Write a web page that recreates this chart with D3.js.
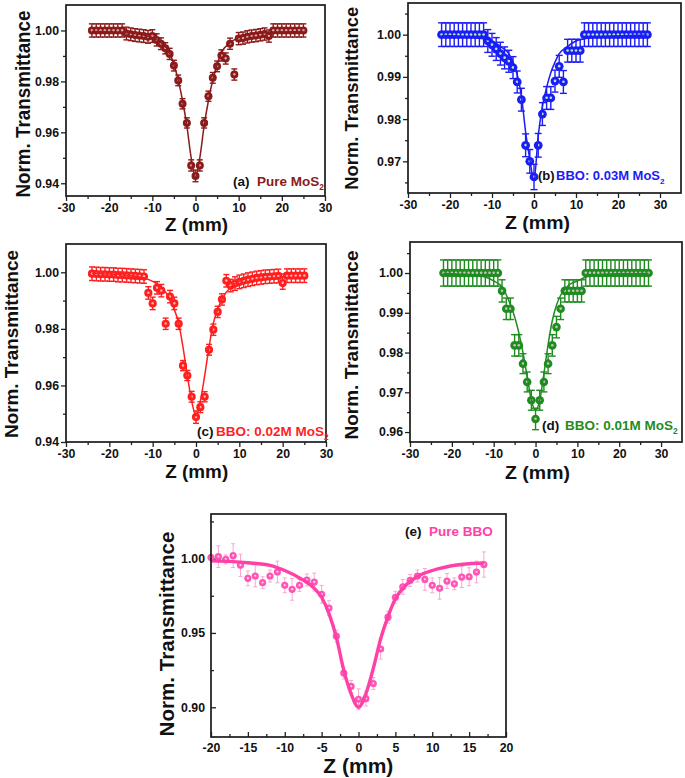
<!DOCTYPE html>
<html><head><meta charset="utf-8">
<script src="https://cdn.jsdelivr.net/npm/d3@7"></script>
<style>body{margin:0;background:#fff} text{font-family:"Liberation Sans",Arial,sans-serif;}</style>
</head><body><svg id="c" width="685" height="778"></svg>
<script>
// ---------------- DATA ----------------
// (a) Pure MoS2
const zA = [-24,-23,-22,-21,-20,-19,-18,-17,-16,-15,-14,-13,-12,-11,-10,-9,-8,-7,-6,-5,-4,-3,-2,-1,0,1,2,3,4,5,6,7,8,9,10,11,12,13,14,15,16,17,18,19,20,21,22,23,24,25];
const tA = [1.000,1.000,1.000,1.000,1.000,1.000,1.000,1.000,0.9988,0.9985,0.9982,0.998,0.9978,0.9975,0.9978,0.9963,0.9948,0.993,0.9908,0.9862,0.9804,0.9712,0.9637,0.947,0.9429,0.947,0.9637,0.9742,0.9814,0.9859,0.9902,0.989,0.9948,0.9827,0.9968,0.997,0.9975,0.9978,0.998,0.9983,0.9986,0.9978,1.000,1.000,1.000,1.000,1.000,1.000,1.000,1.000];
const eA = [0.0026,0.0026,0.0026,0.0026,0.0026,0.0026,0.0026,0.0026,0.0025,0.0025,0.0025,0.0025,0.0025,0.0025,0.0025,0.0024,0.0023,0.0022,0.0022,0.0021,0.0021,0.002,0.002,0.0022,0.0023,0.0022,0.002,0.002,0.0021,0.0021,0.0022,0.0022,0.0022,0.0022,0.0024,0.0024,0.0024,0.0024,0.0024,0.0024,0.0024,0.0024,0.0026,0.0026,0.0026,0.0026,0.0026,0.0026,0.0026,0.0026];
const fitZA = [-24,-20,-15,-12,-10,-8,-6,-5,-4,-3,-2,-1,0,1,2,3,4,5,6,8,10,12,15,20,25];
const fitTA = [0.9996,0.9994,0.999,0.9982,0.9972,0.9952,0.9912,0.9865,0.9805,0.9725,0.9625,0.950,0.9425,0.950,0.9625,0.9725,0.9805,0.9865,0.9912,0.9952,0.9972,0.9982,0.999,0.9994,0.9996];

// (b) BBO: 0.03M MoS2
const zB = [-22,-21,-20,-19,-18,-17,-16,-15,-14,-13,-12,-11,-10,-9,-8,-7,-6,-5,-4,-3,-2,-1,0,1,2,3,4,5,6,7,8,9,10,11,12,13,14,15,16,17,18,19,20,21,22,23,24,25,26,27];
const tB = [1.000,1.000,1.000,1.000,1.000,1.000,1.000,1.000,1.000,1.000,1.000,0.9985,0.9976,0.9966,0.9955,0.9945,0.9937,0.9922,0.9888,0.9846,0.9738,0.970,0.9663,0.9738,0.9812,0.985,0.985,0.989,0.9925,0.9888,0.9962,0.9962,0.9962,0.9962,1.000,1.000,1.000,1.000,1.000,1.000,1.000,1.000,1.000,1.000,1.000,1.000,1.000,1.000,1.000,1.000];
const eB = [0.0028,0.0028,0.0028,0.0028,0.0028,0.0028,0.0028,0.0028,0.0028,0.0028,0.0028,0.0027,0.0027,0.0027,0.0027,0.0026,0.0026,0.0026,0.0026,0.0027,0.0027,0.0028,0.003,0.0028,0.0027,0.0027,0.0027,0.0026,0.0026,0.0027,0.0027,0.0027,0.0027,0.0027,0.0028,0.0028,0.0028,0.0028,0.0028,0.0028,0.0028,0.0028,0.0028,0.0028,0.0028,0.0028,0.0028,0.0028,0.0028,0.0028];
const fitZB = [-22,-15,-12,-10,-8,-6,-5,-4,-3,-2,-1,0,1,2,3,4,5,6,8,10,12,15,20,27];
const fitTB = [0.9998,0.9994,0.999,0.9985,0.9972,0.9955,0.9935,0.9905,0.9855,0.977,0.9705,0.9655,0.976,0.983,0.9875,0.991,0.9935,0.9955,0.9972,0.9985,0.999,0.9994,0.9997,0.9999];

// (c) BBO: 0.02M MoS2
const zC = [-24,-23,-22,-21,-20,-19,-18,-17,-16,-15,-14,-13,-12,-11,-10,-9,-8,-7,-6,-5,-4,-3,-2,-1,0,1,2,3,4,5,6,7,8,9,10,11,12,13,14,15,16,17,18,19,20,21,22,23,24,25];
const tC = [0.9995,0.9994,0.9993,0.9993,0.9992,0.9992,0.999,0.999,0.9989,0.9988,0.9987,0.9986,0.9985,0.9927,0.989,0.9945,0.9935,0.9818,0.9914,0.989,0.9818,0.967,0.9635,0.956,0.9488,0.9523,0.956,0.9726,0.9797,0.986,0.9904,0.997,0.9953,0.996,0.9966,0.997,0.9974,0.9977,0.998,0.9982,0.9984,0.9985,0.9986,0.9987,0.9962,0.9988,0.9988,0.9988,0.9988,0.9988];
const eC = [0.0024,0.0024,0.0024,0.0024,0.0024,0.0024,0.0024,0.0024,0.0024,0.0024,0.0024,0.0024,0.0024,0.0022,0.0022,0.0022,0.0022,0.002,0.0022,0.0022,0.002,0.0018,0.0018,0.0019,0.0022,0.0019,0.0018,0.0019,0.002,0.002,0.002,0.0022,0.0022,0.0024,0.0024,0.0024,0.0024,0.0024,0.0024,0.0024,0.0024,0.0024,0.0024,0.0024,0.0022,0.0024,0.0024,0.0024,0.0024,0.0024];
const fitZC = [-24,-20,-15,-12,-10,-8,-6,-5,-4,-3,-2,-1,0,1,2,3,4,5,6,8,10,12,15,20,25];
const fitTC = [0.9997,0.9994,0.9988,0.998,0.9968,0.9948,0.9905,0.9868,0.982,0.9735,0.9635,0.9545,0.9492,0.9545,0.9635,0.9735,0.982,0.9868,0.9905,0.9948,0.9968,0.998,0.9988,0.9994,0.9997];

// (d) BBO: 0.01M MoS2
const zD = [-22,-21,-20,-19,-18,-17,-16,-15,-14,-13,-12,-11,-10,-9,-8,-7,-6,-5,-4,-3,-2,-1,0,1,2,3,4,5,6,7,8,9,10,11,12,13,14,15,16,17,18,19,20,21,22,23,24,25,26,27];
const tD = [1.000,1.000,1.000,1.000,1.000,1.000,1.000,1.000,1.000,1.000,1.000,1.000,1.000,1.000,0.9955,0.991,0.991,0.9818,0.9818,0.9772,0.9726,0.968,0.9633,0.968,0.9726,0.9772,0.9818,0.9864,0.991,0.9955,0.9955,0.9955,0.9955,0.9955,1.000,1.000,1.000,1.000,1.000,1.000,1.000,1.000,1.000,1.000,1.000,1.000,1.000,1.000,1.000,1.000];
const eD = [0.0033,0.0033,0.0033,0.0033,0.0033,0.0033,0.0033,0.0033,0.0033,0.0033,0.0033,0.0033,0.0033,0.0033,0.0028,0.0027,0.0027,0.0027,0.0027,0.0025,0.0025,0.0025,0.0027,0.0025,0.0025,0.0025,0.0027,0.0027,0.0027,0.0028,0.0028,0.0028,0.0028,0.0028,0.0033,0.0033,0.0033,0.0033,0.0033,0.0033,0.0033,0.0033,0.0033,0.0033,0.0033,0.0033,0.0033,0.0033,0.0033,0.0033];
const fitZD = [-22,-15,-12,-10,-8,-6,-5,-4,-3,-2,-1,0,1,2,3,4,5,6,8,10,12,15,20,27];
const fitTD = [0.9999,0.9995,0.999,0.998,0.9965,0.992,0.989,0.985,0.980,0.974,0.968,0.9655,0.968,0.9747,0.982,0.988,0.9919,0.9944,0.997,0.998,0.999,0.9995,0.9998,0.9999];

// (e) Pure BBO
const zE = [-20,-19,-18,-17,-16,-15,-14,-13,-12,-11,-10,-9,-8,-7,-6,-5,-4,-3,-2,-1,0,1,2,3,4,5,6,7,8,9,10,11,12,13,14,15,16,17];
const tE = [1.0007,1.0013,0.9995,1.002,0.9955,0.9867,0.9883,0.9838,0.9883,0.991,0.982,0.9793,0.982,0.9856,0.9842,0.976,0.9667,0.9478,0.923,0.914,0.9054,0.9058,0.916,0.9392,0.9606,0.974,0.981,0.9853,0.9883,0.986,0.982,0.980,0.9849,0.983,0.9876,0.9878,0.991,0.996];
const eE = [0.002,0.0073,0.003,0.008,0.0075,0.005,0.0073,0.004,0.004,0.0073,0.005,0.0073,0.004,0.004,0.006,0.006,0.005,0.004,0.004,0.004,0.007,0.005,0.004,0.0068,0.004,0.004,0.005,0.004,0.004,0.0073,0.005,0.0073,0.005,0.004,0.007,0.006,0.0073,0.0085];
const fitZE = [-20,-17,-15,-12,-10,-8,-6,-5,-4,-3,-2,-1,0,1,2,3,4,5,6,8,10,12,15,17];
const fitTE = [0.9985,0.998,0.9972,0.9955,0.992,0.987,0.980,0.974,0.963,0.947,0.925,0.909,0.900,0.909,0.926,0.946,0.961,0.973,0.980,0.988,0.992,0.9945,0.9965,0.997];

// tick values
const xTicks30 = [-30,-20,-10,0,10,20,30];
const xMinor30 = [-25,-15,-5,5,15,25];
const xTicks20 = [-20,-15,-10,-5,0,5,10,15,20];
const xMinor20 = [-17.5,-12.5,-7.5,-2.5,2.5,7.5,12.5,17.5];
const yTicksA = [0.94,0.96,0.98,1.00], yMinorA = [0.95,0.97,0.99];
const yTicksB = [0.97,0.98,0.99,1.00], yMinorB = [0.965,0.975,0.985,0.995,1.005];
const yTicksC = [0.94,0.96,0.98,1.00], yMinorC = [0.95,0.97,0.99];
const yTicksD = [0.96,0.97,0.98,0.99,1.00], yMinorD = [0.965,0.975,0.985,0.995,1.005];
const yTicksE = [0.90,0.95,1.00], yMinorE = [0.925,0.975,1.025];

const yTitle = "Norm. Transmittance", xTitle = "Z (mm)";

// ---------------- DRAW ----------------
const svg = d3.select('#c');

const panels = [
  {id:'a', z:zA, t:tA, e:eA, fz:fitZA, ft:fitTA, left:66, right:325, top:5, bottom:196, xDom:[-30,30], yDom:[0.935,1.01],
   xTicks:xTicks30, xMinor:xMinor30, yTicks:yTicksA, yMinor:yMinorA, col:'#8b1a1a', hi:'#d9a3a3', ecol:'#8b1a1a', lw:1.5, r:4, cap:3,
   ylx:30, yly:104, yll:187, ylf:19.5, xlx:196.5, xly:230.5, xlf:18.5, xll:63,
   tag:'(a)', tx1:233, tx2:257, ty:186, tfs:13.5, lab:'Pure MoS', sub:'2', tbold:true},
  {id:'b', z:zB, t:tB, e:eB, fz:fitZB, ft:fitTB, left:408, right:681, top:3, bottom:193, xDom:[-30,35], yDom:[0.9625,1.0075],
   xTicks:xTicks30, xMinor:xMinor30, yTicks:yTicksB, yMinor:yMinorB, col:'#1c1cf5', hi:'#a8ecc4', ecol:'#1c1cf5', lw:1.5, r:4.4, cap:3.5,
   ylx:357.5, yly:98.3, yll:183, ylf:19, xlx:537.5, xly:228.5, xlf:18.5, xll:65,
   tag:'(b)', tx1:538, tx2:556, ty:180, tfs:13, lab:'BBO: 0.03M MoS', sub:'2', tbold:true},
  {id:'c', z:zC, t:tC, e:eC, fz:fitZC, ft:fitTC, left:66, right:326, top:244, bottom:442, xDom:[-30,30], yDom:[0.94,1.01],
   xTicks:xTicks30, xMinor:xMinor30, yTicks:yTicksC, yMinor:yMinorC, col:'#ff1f1f', hi:'#ffb0b0', ecol:'#ff1f1f', lw:1.5, r:4.1, cap:3,
   ylx:17.5, yly:344, yll:188, ylf:19, xlx:196.7, xly:477.5, xlf:18.5, xll:63,
   tag:'(c)', tx1:197, tx2:216, ty:436, tfs:13.5, lab:'BBO: 0.02M MoS', sub:'2', tbold:true},
  {id:'d', z:zD, t:tD, e:eD, fz:fitZD, ft:fitTD, left:410, right:682, top:242, bottom:442, xDom:[-30,35], yDom:[0.9575,1.0078],
   xTicks:xTicks30, xMinor:xMinor30, yTicks:yTicksD, yMinor:yMinorD, col:'#1f8c1f', hi:'#c4c4c4', ecol:'#1f8c1f', lw:1.5, r:4.3, cap:3.5,
   ylx:357.5, yly:345, yll:189, ylf:19, xlx:537.5, xly:479, xlf:18.5, xll:65,
   tag:'(d)', tx1:542, tx2:565, ty:430, tfs:13.5, lab:'BBO: 0.01M MoS', sub:'2', tbold:true},
  {id:'e', z:zE, t:tE, e:eE, fz:fitZE, ft:fitTE, left:211, right:506, top:514, bottom:737, xDom:[-20,20], yDom:[0.88,1.03],
   xTicks:xTicks20, xMinor:xMinor20, yTicks:yTicksE, yMinor:yMinorE, col:'#ff55b5', hi:'#ffd8ee', ecol:'#f7a8d2', lcol:'#ff40a6', lw:3.4, r:3.6, cap:2, inward:true,
   ylx:174, yly:634, yll:205, ylf:20, xlx:358.3, xly:773, xlf:20.5, xll:70,
   tag:'(e)', tx1:405, tx2:429, ty:536, tfs:13.5, lab:'Pure BBO', sub:'', tbold:true}
];

panels.forEach(p => {
  const x = d3.scaleLinear().domain(p.xDom).range([p.left,p.right]);
  const y = d3.scaleLinear().domain(p.yDom).range([p.bottom,p.top]);
  const g = svg.append('g');
  const tk = p.inward ? -5 : 5, mk = p.inward ? -3 : 3;
  const ax = g.append('g');
  ax.append('g').attr('transform',`translate(0,${p.bottom})`)
    .call(d3.axisBottom(x).tickValues(p.xTicks).tickSize(tk).tickPadding(p.inward?6.5:2).tickFormat(d=>String(d)));
  ax.append('g').attr('transform',`translate(0,${p.bottom})`)
    .call(d3.axisBottom(x).tickValues(p.xMinor).tickSize(mk).tickFormat(''));
  ax.append('g').attr('transform',`translate(${p.left},0)`)
    .call(d3.axisLeft(y).tickValues(p.yTicks).tickSize(tk).tickPadding(p.inward?6:2).tickFormat(d=>d.toFixed(2)));
  ax.append('g').attr('transform',`translate(${p.left},0)`)
    .call(d3.axisLeft(y).tickValues(p.yMinor).tickSize(mk).tickFormat(''));
  ax.selectAll('.domain').remove();
  ax.selectAll('.tick line').attr('stroke','#222').attr('stroke-width',1.3);
  ax.selectAll('.tick text').attr('font-size',12.3).attr('font-weight','bold').attr('fill','#111')
    .attr('font-family','"Liberation Sans",Arial,sans-serif');

  const pts = p.z.map((z,i)=>({z, t:p.t[i], e:p.e[i]}));
  // error bars
  const eb = g.append('g').attr('stroke',p.ecol).attr('stroke-width',p.inward?1:1.4).attr('fill','none');
  pts.forEach(d => {
    const xx = x(d.z), y1 = y(d.t+d.e), y2 = y(d.t-d.e);
    eb.append('line').attr('x1',xx).attr('x2',xx).attr('y1',y1).attr('y2',y2);
    eb.append('line').attr('x1',xx-p.cap).attr('x2',xx+p.cap).attr('y1',y1).attr('y2',y1);
    eb.append('line').attr('x1',xx-p.cap).attr('x2',xx+p.cap).attr('y1',y2).attr('y2',y2);
  });
  // markers: solid sphere with small highlight
  const mg = g.append('g');
  mg.selectAll('circle.m').data(pts).join('circle').attr('class','m')
    .attr('cx',d=>x(d.z)).attr('cy',d=>y(d.t)).attr('r',p.r).attr('fill',p.col);
  mg.selectAll('circle.h').data(pts).join('circle').attr('class','h')
    .attr('cx',d=>x(d.z)).attr('cy',d=>y(d.t)-0.2).attr('r',p.r*0.3).attr('fill',p.hi);
  // fit line
  const fit = p.fz.map((z,i)=>[z,p.ft[i]]);
  g.append('path').datum(fit)
    .attr('d', d3.line().x(d=>x(d[0])).y(d=>y(d[1])).curve(d3.curveMonotoneX))
    .attr('fill','none').attr('stroke',p.lcol||p.col).attr('stroke-width',p.lw);
  // frame
  g.append('rect').attr('x',p.left).attr('y',p.top).attr('width',p.right-p.left).attr('height',p.bottom-p.top)
    .attr('fill','none').attr('stroke','#1a1a1a').attr('stroke-width',1.7);
  // axis titles
  g.append('text').attr('transform',`translate(${p.ylx},${p.yly}) rotate(-90)`).attr('text-anchor','middle')
    .attr('font-size',p.ylf).attr('font-weight','bold').attr('fill','#111')
    .attr('textLength',p.yll).attr('lengthAdjust','spacingAndGlyphs').text(yTitle);
  g.append('text').attr('x',p.xlx).attr('y',p.xly).attr('text-anchor','middle')
    .attr('font-size',p.xlf).attr('font-weight','bold').attr('fill','#111')
    .attr('textLength',p.xll).attr('lengthAdjust','spacingAndGlyphs').text(xTitle);
  // panel tag
  g.append('text').attr('x',p.tx1).attr('y',p.ty).attr('font-size',p.tfs).attr('font-weight','bold').attr('fill','#111').text(p.tag);
  const lt = g.append('text').attr('x',p.tx2).attr('y',p.ty).attr('font-size',p.tfs)
    .attr('font-weight',p.tbold?'bold':'normal').attr('fill',p.lcol||p.col);
  lt.append('tspan').text(p.lab);
  if (p.sub) lt.append('tspan').attr('font-size',p.tfs*0.62).attr('dy',3.5).text(p.sub);
});
</script>
</body></html>
